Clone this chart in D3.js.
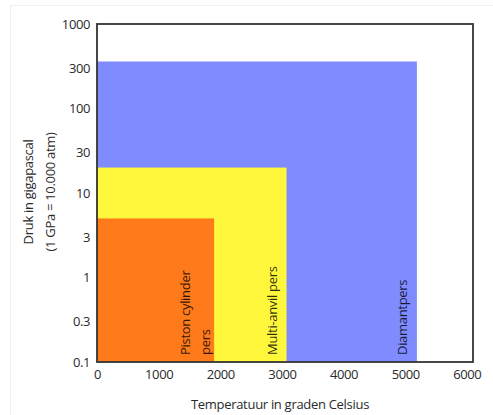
<!DOCTYPE html>
<html>
<head>
<meta charset="utf-8">
<script src="https://cdn.jsdelivr.net/npm/d3@7"></script>
<style>
  body { margin: 0; background: #fff; }
  svg text { font-family: 'Open Sans', 'Noto Sans', sans-serif; }
</style>
</head>
<body>
<div id="chart"></div>
<script>
// Press types, drawn back to front
const presses = ['Diamantpers', 'Multi-anvil pers', 'Piston cylinder pers'];
const maxTemp = [5190, 3075, 1900];      // graden Celsius
const maxPressure = [360, 20, 5];        // GPa
const pressLabelLines = [['Diamantpers'], ['Multi-anvil pers'], ['Piston cylinder', 'pers']];
const pressColors = ['#7f8bff', '#fff73c', '#ff7a1a'];

const xTicks = [0, 1000, 2000, 3000, 4000, 5000, 6000];
const yTicks = [0.1, 0.3, 1, 3, 10, 30, 100, 300, 1000];
const yTickLabels = ['0.1', '0.3', '1', '3', '10', '30', '100', '300', '1000'];

const W = 493, H = 415;
const frame = { left: 97, right: 473, top: 24, bottom: 362 };
// distance of the last label line from the right edge of its region
const labelInset = [10, 10, 4];

const svg = d3.select('#chart').append('svg')
    .attr('width', W)
    .attr('height', H);

// faint outer border of the picture
svg.append('rect')
    .attr('x', 10.5).attr('y', 5.5)
    .attr('width', W + 10).attr('height', H)
    .attr('fill', 'none')
    .attr('stroke', '#f0f0f0');

// Scales
const x = d3.scaleLinear()
    .domain([0, 6100])
    .range([frame.left, frame.right]);

const y = d3.scaleLog()
    .domain([0.1, 1000])
    .range([frame.bottom, frame.top]);

// Press regions
const rows = presses.map((name, i) => ({
    name,
    temp: maxTemp[i],
    pressure: maxPressure[i],
    lines: pressLabelLines[i],
    color: pressColors[i],
    inset: labelInset[i]
}));

svg.append('g')
    .selectAll('rect')
    .data(rows)
    .join('rect')
    .attr('x', x(0))
    .attr('y', d => y(d.pressure))
    .attr('width', d => x(d.temp) - x(0))
    .attr('height', d => y(0.1) - y(d.pressure))
    .attr('fill', d => d.color);

// Rotated labels inside each region
const labels = svg.append('g');
rows.forEach(d => {
    const n = d.lines.length;
    d.lines.forEach((line, j) => {
        const bx = x(d.temp) - d.inset - (n - 1 - j) * 20;
        labels.append('text')
            .attr('transform', `translate(${bx},${frame.bottom - 7}) rotate(-90)`)
            .attr('font-size', '13px')
            .attr('letter-spacing', '-0.3px')
            .attr('fill', '#000')
            .attr('fill-opacity', 0.82)
            .text(line);
    });
});

// Frame
svg.append('rect')
    .attr('x', frame.left)
    .attr('y', frame.top)
    .attr('width', frame.right - frame.left)
    .attr('height', frame.bottom - frame.top)
    .attr('fill', 'none')
    .attr('stroke', '#333')
    .attr('stroke-width', 1.8);

// Axes (labels only, no tick marks)
const xAxis = d3.axisBottom(x)
    .tickValues(xTicks)
    .tickSize(0)
    .tickPadding(8)
    .tickFormat(d3.format('d'));

svg.append('g')
    .attr('class', 'x-axis')
    .attr('transform', `translate(0,${frame.bottom})`)
    .call(xAxis)
    .call(g => g.select('.domain').remove())
    .call(g => g.selectAll('text')
        .attr('font-size', '13px')
        .attr('letter-spacing', '-0.4px')
        .attr('fill', '#2a2a2a'));

const yAxis = d3.axisLeft(y)
    .tickValues(yTicks)
    .tickSize(0)
    .tickPadding(7)
    .tickFormat((d, i) => yTickLabels[i]);

svg.append('g')
    .attr('class', 'y-axis')
    .attr('transform', `translate(${frame.left},0)`)
    .call(yAxis)
    .call(g => g.select('.domain').remove())
    .call(g => g.selectAll('text')
        .attr('font-size', '13px')
        .attr('letter-spacing', '-0.4px')
        .attr('fill', '#2a2a2a'));

// Axis titles
svg.append('text')
    .attr('x', 280)
    .attr('y', 409)
    .attr('text-anchor', 'middle')
    .attr('font-size', '13px')
    .attr('letter-spacing', '-0.3px')
    .attr('fill', '#2a2a2a')
    .text('Temperatuur in graden Celsius');

const yTitle = svg.append('text')
    .attr('transform', 'translate(0,192) rotate(-90)')
    .attr('text-anchor', 'middle')
    .attr('font-size', '13px')
    .attr('letter-spacing', '-0.3px')
    .attr('fill', '#2a2a2a');

yTitle.append('tspan').attr('x', 0).attr('y', 33).text('Druk in gigapascal');
yTitle.append('tspan').attr('x', 0).attr('y', 55).text('(1 GPa = 10.000 atm)');
</script>
</body>
</html>
